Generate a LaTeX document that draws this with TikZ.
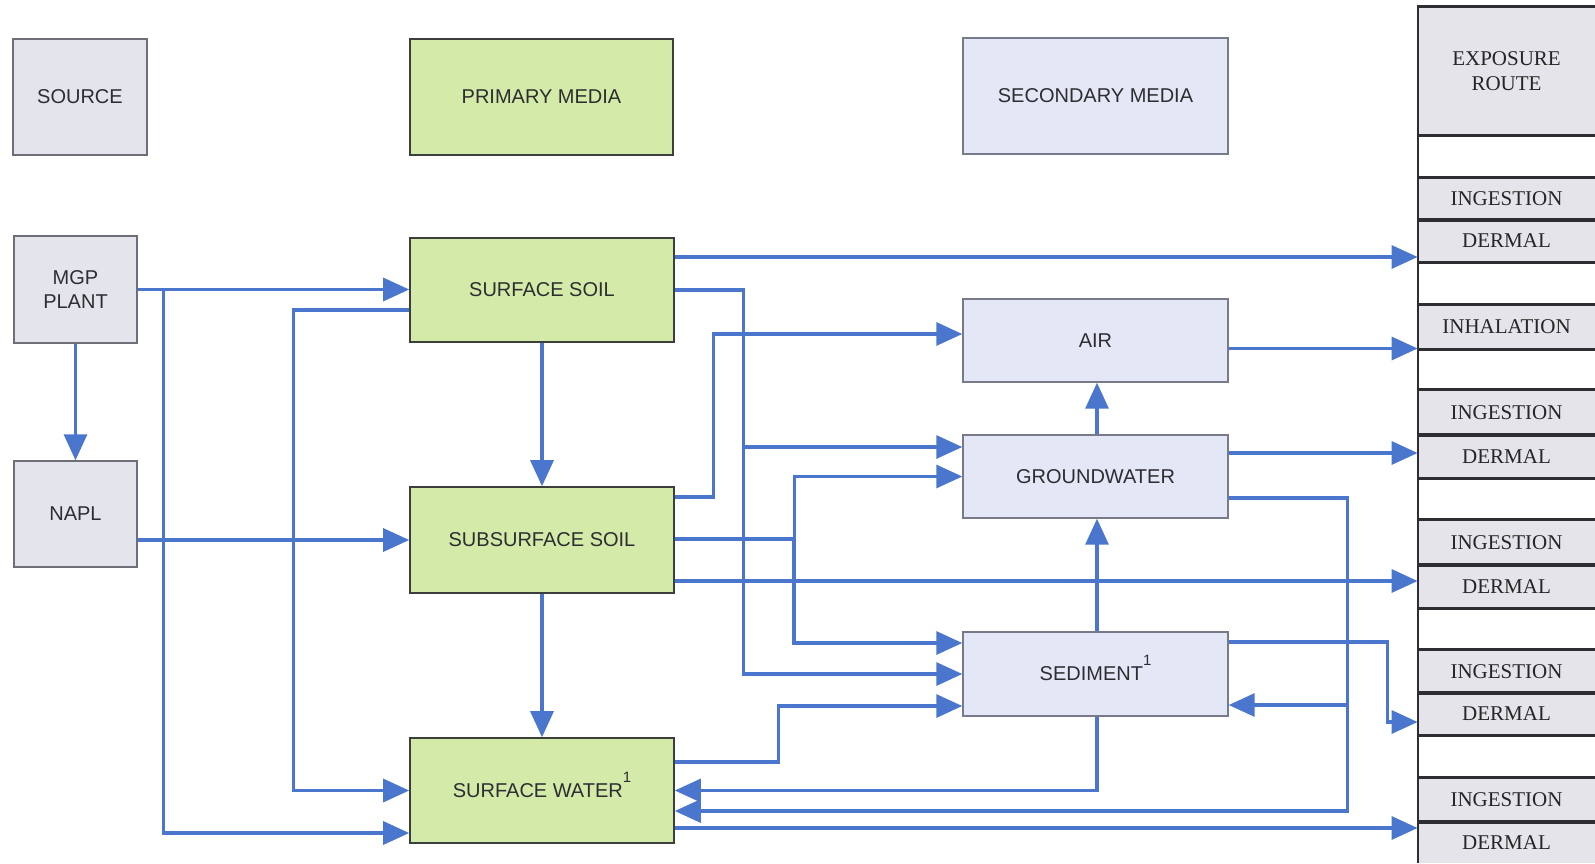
\documentclass[tikz,border=0pt]{standalone}
\usepackage{fontspec}
\setmainfont{Liberation Sans}
\newfontfamily\serifx{Liberation Serif}
\usetikzlibrary{arrows.meta}
\definecolor{arrowblue}{RGB}{74,118,206}
\definecolor{srcfill}{RGB}{228,228,236}
\definecolor{srcline}{RGB}{110,110,120}
\definecolor{greenfill}{RGB}{212,234,168}
\definecolor{greenline}{RGB}{60,64,60}
\definecolor{secfill}{RGB}{228,231,245}
\definecolor{secline}{RGB}{120,122,140}
\definecolor{expfill}{RGB}{228,228,234}
\definecolor{expline}{RGB}{45,45,50}
\definecolor{txt}{RGB}{45,45,50}
\newcommand\supone{\smash{\raisebox{0.75em}{\fontsize{7.5}{8}\selectfont 1}}}
\begin{document}
\begin{tikzpicture}[x=0.5pt,y=-0.5pt,
  font=\fontsize{10}{12}\selectfont,
  base/.style={rectangle, inner sep=0pt, align=center, text=txt},
  srcbox/.style={base, fill=srcfill, draw=srcline, line width=0.7pt},
  primbox/.style={base, fill=greenfill, draw=greenline, line width=0.8pt},
  secbox/.style={base, fill=secfill, draw=secline, line width=0.7pt},
  exprow/.style={base, fill=expfill, draw=none, minimum width=88.5pt,
    font=\serifx\fontsize{10.5}{12.5}\selectfont, text=black!85},
  rowline/.style={draw=expline, line width=1.5pt},
  arr/.style={draw=arrowblue, line width=1.6pt, -{Triangle[length=13pt,width=11.5pt]}}]
\useasboundingbox (0,0) rectangle (1595,863);

% header boxes
\node[srcbox, minimum width=67pt, minimum height=58pt] (hsrc) at (80,97) {SOURCE};
\node[primbox, minimum width=131.5pt, minimum height=58pt] (hprim) at (541.5,97) {PRIMARY MEDIA};
\node[secbox, minimum width=132.5pt, minimum height=58pt] (hsec) at (1095.5,96) {SECONDARY MEDIA};

% sources
\node[srcbox, minimum width=61.5pt, minimum height=53.5pt] (mgp) at (75.5,289.5) {MGP\\PLANT};
\node[srcbox, minimum width=61.5pt, minimum height=53pt] (napl) at (75.5,514) {NAPL};

% primary media
\node[primbox, minimum width=132pt, minimum height=52pt] (soil) at (542,290) {SURFACE SOIL};
\node[primbox, minimum width=132pt, minimum height=53pt] (subsoil) at (542,540) {SUBSURFACE SOIL};
\node[primbox, minimum width=132pt, minimum height=52.5pt] (water) at (542,790.5) {SURFACE WATER\supone};

% secondary media
\node[secbox, minimum width=132.5pt, minimum height=41.5pt] (air) at (1095.5,340.5) {AIR};
\node[secbox, minimum width=132.5pt, minimum height=41.5pt] (gw) at (1095.5,476.5) {GROUNDWATER};
\node[secbox, minimum width=132.5pt, minimum height=42pt] (sed) at (1095.5,674) {SEDIMENT\supone};

% exposure route column
\node[exprow, minimum height=64pt] (hexp) at (1506.5,71) {EXPOSURE\\ROUTE};
\node[exprow, minimum height=21pt] (i1) at (1506.5,199) {INGESTION};
\node[exprow, minimum height=21pt] (d1) at (1506.5,241) {DERMAL};
\node[exprow, minimum height=22pt] (inh) at (1506.5,327) {INHALATION};
\node[exprow, minimum height=22.5pt] (i2) at (1506.5,412.5) {INGESTION};
\node[exprow, minimum height=21.5pt] (d2) at (1506.5,456.5) {DERMAL};
\node[exprow, minimum height=22.5pt] (i3) at (1506.5,542.5) {INGESTION};
\node[exprow, minimum height=21.5pt] (d3) at (1506.5,586.5) {DERMAL};
\node[exprow, minimum height=21.5pt] (i4) at (1506.5,671.5) {INGESTION};
\node[exprow, minimum height=21pt] (d4) at (1506.5,714) {DERMAL};
\node[exprow, minimum height=22pt] (i5) at (1506.5,800) {INGESTION};
\node[exprow, minimum height=20.5pt] (d5) at (1506.5,842.5) {DERMAL};

\foreach \r in {hexp,i1,d1,inh,i2,d2,i3,d3,i4,d4,i5}{
  \draw[rowline] (\r.north west) -- (\r.north east);
  \draw[rowline] (\r.south west) -- (\r.south east);
}
\draw[rowline] (d5.north west) -- (d5.north east);
\draw[draw=expline, line width=1.1pt] ([yshift=0.75pt]hexp.north west) -- (d5.south west);

% junction coordinates
\coordinate (jsoil) at (743,447);
\coordinate (jsub) at (794,539);
\coordinate (jgw) at (1347,705);

% source connectors
\draw[arr] (mgp.east) -- (mgp.east -| soil.west);
\draw[arr] ([shift={(26,0)}]mgp.east) |- ([shift={(0,42.5)}]water.west);
\draw[arr] ([shift={(0,26)}]napl.east) -- (subsoil.west);
\draw[arr] (mgp.south) -- (napl.north);
\draw[arr] ([shift={(0,20)}]soil.west) -- ++(-116,0) |- (water.west);

% primary vertical chain
\draw[arr] (soil.south) -- (subsoil.north);
\draw[arr] (subsoil.south) -- (water.north);

% surface soil
\draw[arr] ([shift={(0,-33)}]soil.east) -- ([shift={(0,16)}]d1.west);
\draw[arr] (soil.east) -- ++(69,0) |- (sed.west);
\draw[arr] (jsoil) -- ([shift={(0,-29.5)}]gw.west);

% subsurface soil
\draw[arr] ([shift={(0,-43)}]subsoil.east) -- ++(39,0) |- ([shift={(0,-6.5)}]air.west);
\draw[arr] ([shift={(0,-1)}]subsoil.east) -- ++(120,0) |- (gw.west);
\draw[arr] (jsub) |- ([shift={(0,-31)}]sed.west);
\draw[arr] ([shift={(0,41)}]subsoil.east) -- ([shift={(0,-5.5)}]d3.west);

% surface water
\draw[arr] ([shift={(0,-28.5)}]water.east) -- ++(104,0) |- ([shift={(0,32)}]sed.west);
\draw[arr] ([shift={(0,37.5)}]water.east) -- ([shift={(0,-14.5)}]d5.west);

% secondary media
\draw[arr] ([shift={(1.5,0)}]sed.south) |- (water.east);
\draw[arr] ([shift={(0,21.5)}]gw.east) -- ++(119,0) |- ([shift={(0,20.5)}]water.east);
\draw[arr] (jgw) -- ([shift={(0,31)}]sed.east);
\draw[arr] ([shift={(0,-32)}]sed.east) -- ++(159,0) |- ([shift={(0,8)}]d4.west);
\draw[arr] ([shift={(0,8)}]air.east) -- ([shift={(0,21.5)}]inh.west);
\draw[arr] ([shift={(0,-23.5)}]gw.east) -- ([shift={(0,-3.5)}]d2.west);
\draw[arr] ([shift={(1.5,0)}]gw.north) -- ([shift={(1.5,0)}]air.south);
\draw[arr] ([shift={(1.5,0)}]sed.north) -- ([shift={(1.5,0)}]gw.south);
\end{tikzpicture}
\end{document}
